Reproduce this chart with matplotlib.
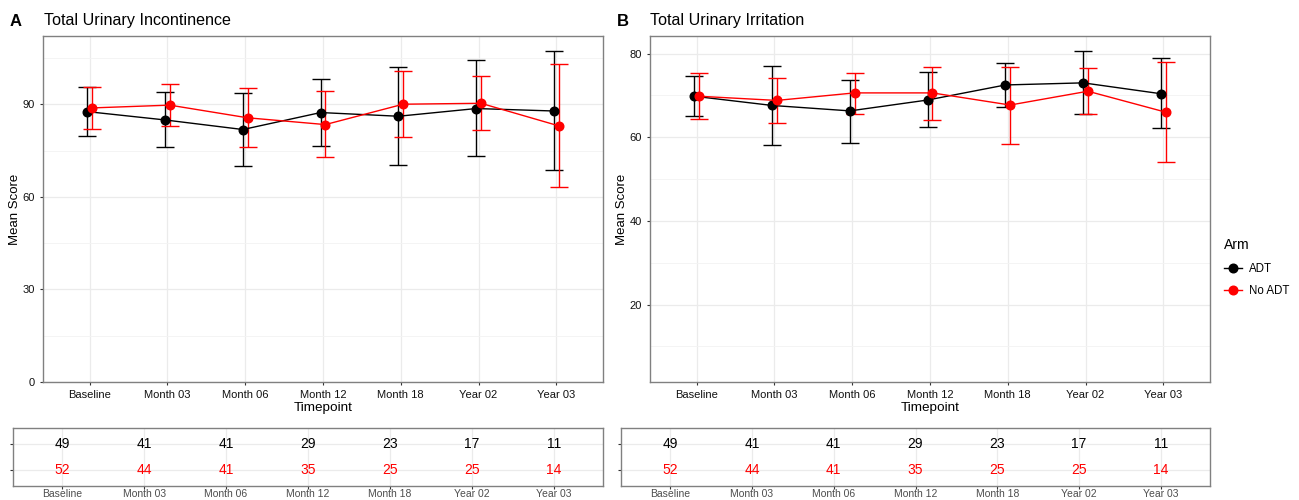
import matplotlib.pyplot as plt
from matplotlib.lines import Line2D
from matplotlib.ticker import MultipleLocator

plt.rcParams['font.family'] = ['Liberation Sans', 'DejaVu Sans']

timepoints = ['Baseline', 'Month 03', 'Month 06', 'Month 12', 'Month 18', 'Year 02', 'Year 03']
arms = ['ADT', 'No ADT']

# Total Urinary Incontinence (mean and error bar ends)
incont_adt = [87.6, 84.9, 81.8, 87.3, 86.1, 88.6, 87.8]
incont_adt_lo = [79.7, 76.1, 70.0, 76.6, 70.4, 73.2, 68.6]
incont_adt_hi = [95.7, 94.0, 93.7, 98.2, 102.0, 104.2, 107.2]
incont_noadt = [88.8, 89.7, 85.6, 83.4, 90.0, 90.3, 83.0]
incont_noadt_lo = [82.1, 82.9, 76.2, 72.8, 79.5, 81.6, 63.2]
incont_noadt_hi = [95.5, 96.6, 95.1, 94.4, 100.6, 99.2, 102.9]

# Total Urinary Irritation
irrit_adt = [69.8, 67.6, 66.3, 68.9, 72.5, 73.0, 70.4]
irrit_adt_lo = [65.1, 58.2, 58.7, 62.4, 67.3, 65.5, 62.1]
irrit_adt_hi = [74.6, 77.1, 73.8, 75.6, 77.8, 80.6, 78.9]
irrit_noadt = [69.8, 68.8, 70.6, 70.6, 67.7, 71.0, 66.0]
irrit_noadt_lo = [64.3, 63.3, 65.6, 64.2, 58.5, 65.5, 54.0]
irrit_noadt_hi = [75.4, 74.2, 75.4, 76.9, 76.8, 76.5, 78.1]

# patients at risk
n_adt = [49, 41, 41, 29, 23, 17, 11]
n_noadt = [52, 44, 41, 35, 25, 25, 14]

W, H = 1299, 500
colors = {'ADT': 'black', 'No ADT': 'red'}
dodge = {'ADT': -0.03, 'No ADT': 0.03}


def rect(l, t, r, b):
    return [l / W, 1 - b / H, (r - l) / W, (b - t) / H]


def style_box(ax):
    for s in ax.spines.values():
        s.set_color('#808080')
        s.set_linewidth(1.0)
    ax.set_axisbelow(True)
    ax.tick_params(length=2.5, width=0.8, color='#333333')


def main_panel(ax, series, ylim, major, minor):
    x = range(len(timepoints))
    for arm, (m, lo, hi) in series.items():
        xs = [i + dodge[arm] for i in x]
        yerr = [[a - b for a, b in zip(m, lo)], [b - a for a, b in zip(m, hi)]]
        ax.errorbar(xs, m, yerr=yerr, color=colors[arm], marker='o', markersize=6.2,
                    lw=1.0, elinewidth=1.0, capsize=6.8, capthick=1.0, zorder=3)
    ax.set_xlim(-0.6, len(timepoints) - 0.4)
    ax.set_ylim(*ylim)
    ax.set_xticks(list(x))
    ax.set_xticklabels(timepoints, fontsize=8, color='#111111')
    ax.yaxis.set_major_locator(MultipleLocator(major))
    ax.yaxis.set_minor_locator(MultipleLocator(minor))
    ax.tick_params(axis='y', which='minor', length=0)
    ax.tick_params(axis='y', labelsize=8, labelcolor='#111111')
    ax.grid(True, which='major', color='#EBEBEB', lw=0.9)
    ax.grid(True, which='minor', axis='y', color='#F3F3F3', lw=0.6)
    ax.set_xlabel('Timepoint', fontsize=9.7, labelpad=1)
    ax.set_ylabel('Mean Score', fontsize=9.5, labelpad=1)
    style_box(ax)


def table_panel(ax):
    for i, (c, k) in enumerate(zip(n_adt, n_noadt)):
        ax.text(i, 2, str(c), ha='center', va='center', fontsize=10, color='black')
        ax.text(i, 1, str(k), ha='center', va='center', fontsize=10, color='red')
    ax.set_xlim(-0.6, len(timepoints) - 0.4)
    ax.set_ylim(0.4, 2.6)
    ax.set_xticks(range(len(timepoints)))
    ax.set_xticklabels(timepoints, fontsize=7.5, color='#4d4d4d')
    ax.set_yticks([1, 2])
    ax.set_yticklabels([])
    ax.grid(True, color='#EBEBEB', lw=0.9)
    style_box(ax)
    ax.tick_params(axis='x', length=2, pad=0.5)


fig = plt.figure(figsize=(W / 100, H / 100), dpi=100)

ax_a = fig.add_axes(rect(43, 36, 603, 382))
main_panel(ax_a, {'ADT': (incont_adt, incont_adt_lo, incont_adt_hi),
                  'No ADT': (incont_noadt, incont_noadt_lo, incont_noadt_hi)},
           (0, 112.1), 30, 15)

ax_b = fig.add_axes(rect(650, 36, 1210, 382))
main_panel(ax_b, {'ADT': (irrit_adt, irrit_adt_lo, irrit_adt_hi),
                  'No ADT': (irrit_noadt, irrit_noadt_lo, irrit_noadt_hi)},
           (1.5, 84.2), 20, 10)

tab_a = fig.add_axes(rect(13, 428, 603, 486))
table_panel(tab_a)
tab_b = fig.add_axes(rect(621, 428, 1210, 486))
table_panel(tab_b)

fig.text(10 / W, 1 - 21 / H, 'A', fontsize=12, fontweight='bold', va='center')
fig.text(44 / W, 1 - 21 / H, 'Total Urinary Incontinence', fontsize=11.6, va='center')
fig.text(617 / W, 1 - 21 / H, 'B', fontsize=12, fontweight='bold', va='center')
fig.text(650 / W, 1 - 21 / H, 'Total Urinary Irritation', fontsize=11.6, va='center')

handles = [Line2D([0], [0], color=colors[a], marker='o', markersize=6.2, lw=1.0) for a in arms]
leg = fig.legend(handles, arms, title='Arm', loc='upper left',
                 bbox_to_anchor=(1214 / W, 1 - 228 / H), frameon=False,
                 fontsize=8.3, title_fontsize=10, handlelength=1.5, handletextpad=0.6,
                 labelspacing=0.9)
leg._legend_box.align = 'left'

fig.savefig('out.png', dpi=100)
